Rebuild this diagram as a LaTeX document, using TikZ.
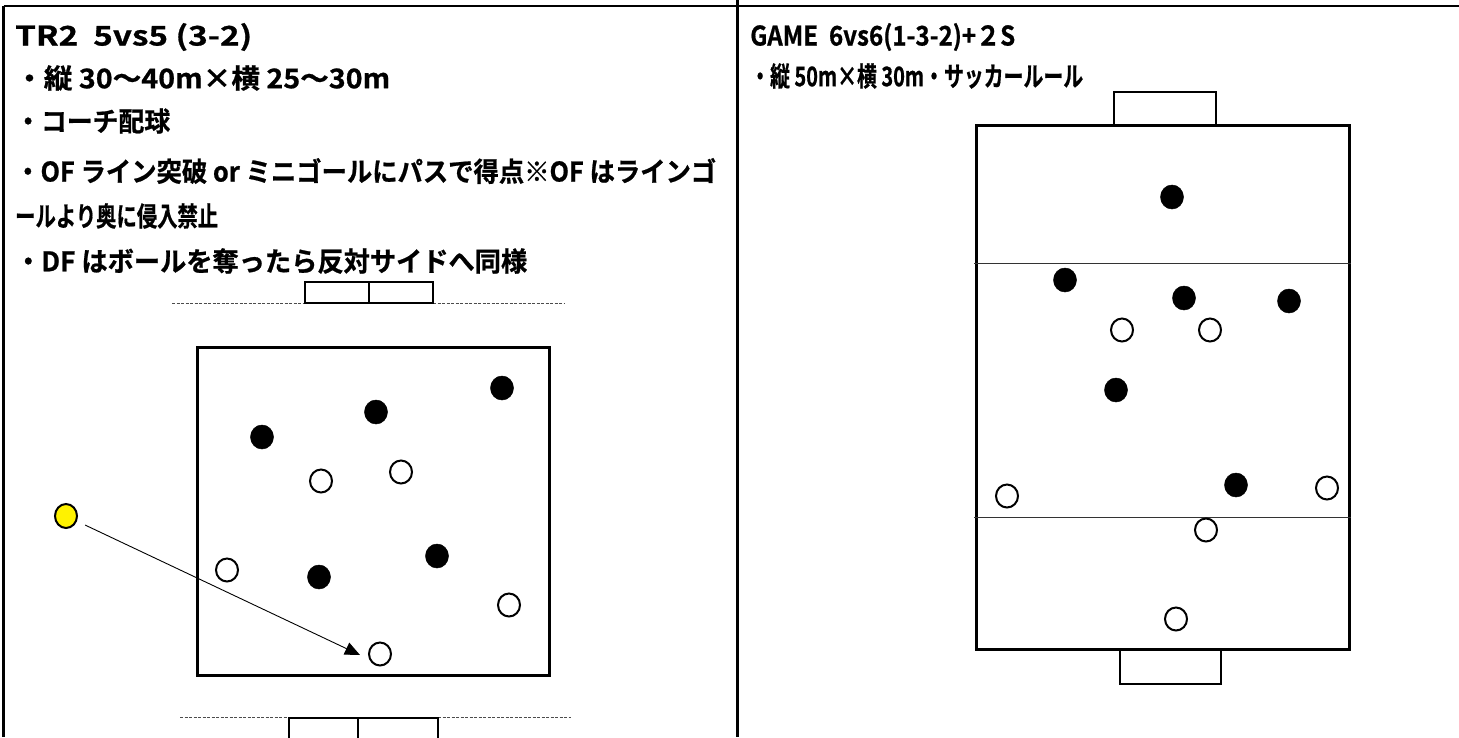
\documentclass[tikz,border=0pt]{standalone}
\usepackage{fontspec}
\usepackage{graphicx}
\setmainfont{Noto Sans CJK JP}[BoldFont={Noto Sans CJK JP Bold},BoldFeatures={FakeBold=0.8}]
\usetikzlibrary{arrows.meta,shapes.geometric}
\newcommand\fitw[2]{\resizebox{#1}{\height}{#2}}
\tikzset{
  frame/.style={line width=2.4pt,black},
  txt/.style={anchor=west,inner sep=0pt,font=\fontsize{27pt}{31pt}\selectfont\bfseries},
  field/.style={line width=3pt,black},
  goalbox/.style={line width=1.4pt,black},
  midline/.style={line width=1pt,black!80},
  dashline/.style={line width=0.9pt,black!70,dash pattern=on 3pt off 1.5pt},
  blk/.style={ellipse,fill=black,draw=black,line width=0.5pt,minimum width=23pt,minimum height=24pt,inner sep=0pt},
  wht/.style={ellipse,fill=white,draw=black,line width=2pt,minimum width=22pt,minimum height=23pt,inner sep=0pt},
  ylw/.style={ellipse,fill=yellow,draw=black,line width=2pt,minimum width=22pt,minimum height=24pt,inner sep=0pt},
  pass/.style={line width=0.9pt,black,-{Triangle[length=15pt,width=13pt]}},
}
\begin{document}
\begin{tikzpicture}[x=1pt,y=-1pt]
\useasboundingbox (0,0) rectangle (1459,737);
% table frame
\draw[frame] (3.5,6) -- (1459,6);
\draw[frame] (3.5,6) -- (3.5,737);
\draw[frame] (737.5,0) -- (737.5,737);
% left texts
\node[txt] (l1) at (15,37) {\fitw{237pt}{TR2\ \ 5vs5 (3-2)}};
\node[txt] (l2) at (15,78) {\fitw{375pt}{・縦 30～40m×横 25～30m}};
\node[txt] (l3) at (15,121) {\fitw{155pt}{・コーチ配球}};
\node[txt] (l4) at (15,171) {\fitw{701pt}{・OF ライン突破 or ミニゴールにパスで得点※OF はラインゴ}};
\node[txt] (l5) at (15,216) {\fitw{203pt}{ールより奥に侵入禁止}};
\node[txt] (l6) at (15,261) {\fitw{512pt}{・DF はボールを奪ったら反対サイドへ同様}};
% right texts
\node[txt] (r1) at (750,37) {\fitw{265pt}{GAME\ \ 6vs6(1-3-2)+２S}};
\node[txt] (r2) at (750,76) {\fitw{333pt}{・縦 50m×横 30m・サッカールール}};
% ---------- left drill ----------
\draw[dashline] (172,303) -- (305,303);
\draw[dashline] (433,303) -- (564,303);
\draw[goalbox] (305,282) rectangle (369,303);
\draw[goalbox] (369,282) rectangle (433,303);
\draw[field] (197,347) rectangle (549,675);
\draw[dashline] (180,717) -- (289,717);
\draw[dashline] (438,717) -- (571,717);
\draw[goalbox] (289,718) rectangle (358,740);
\draw[goalbox] (358,718) rectangle (438,740);
\node[blk] (lb1) at (262,437) {};
\node[blk] (lb2) at (376,412) {};
\node[blk] (lb3) at (502,388) {};
\node[blk] (lb4) at (319,577) {};
\node[blk] (lb5) at (437,556) {};
\node[wht] (lw1) at (321,481) {};
\node[wht] (lw2) at (401,472) {};
\node[wht] (lw3) at (227,570) {};
\node[wht] (lw4) at (509,605) {};
\node[wht] (lw5) at (380,654) {};
\node[ylw] (coach) at (66,516) {};
\coordinate (tip) at (360,655);
\draw[pass,shorten <=9pt] (coach) -- (tip);
% ---------- right game ----------
\draw[goalbox] (1114,125) -- (1114,92) -- (1216,92) -- (1216,125);
\draw[goalbox] (1120,649) -- (1120,684) -- (1221,684) -- (1221,649);
\draw[field] (976,125) rectangle (1349,649);
\draw[midline] (974,263) -- (1351,263);
\draw[midline] (974,517) -- (1351,517);
\node[blk] (rb1) at (1172,197) {};
\node[blk] (rb2) at (1065,280) {};
\node[blk] (rb3) at (1184,298) {};
\node[blk] (rb4) at (1289,301) {};
\node[blk] (rb5) at (1116,390) {};
\node[blk] (rb6) at (1236,485) {};
\node[wht] (rw1) at (1122,330) {};
\node[wht] (rw2) at (1210,330) {};
\node[wht] (rw3) at (1007,496) {};
\node[wht] (rw4) at (1327,488) {};
\node[wht] (rw5) at (1206,530) {};
\node[wht] (rw6) at (1176,619) {};
\end{tikzpicture}
\end{document}
